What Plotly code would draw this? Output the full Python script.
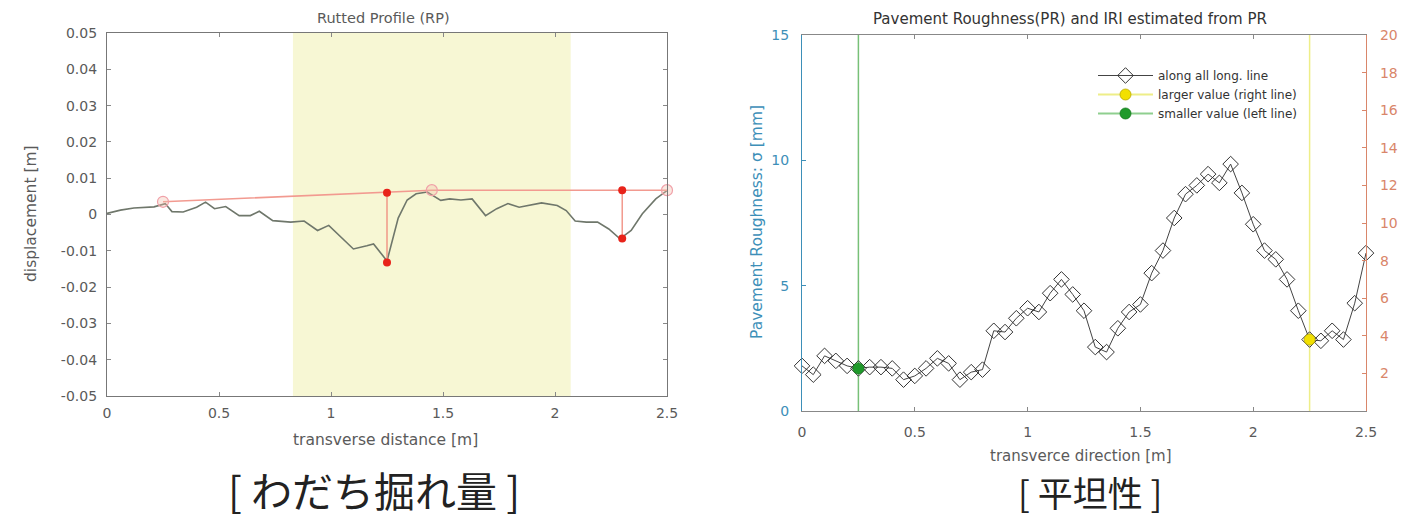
import plotly.graph_objects as go

# page body has an 8px margin, so the figure is sized to fit inside the window
W, H = 1400, 512
OFF = 8

# ---------------------------
# Left panel: rutted profile
# ---------------------------
rp_x = [0.0, 0.06, 0.12, 0.21, 0.26, 0.29, 0.34, 0.40, 0.44, 0.48, 0.53, 0.59, 0.64,
        0.68, 0.74, 0.82, 0.88, 0.94, 0.99, 1.06, 1.10, 1.16, 1.19, 1.25, 1.27, 1.30,
        1.34, 1.38, 1.43, 1.49, 1.53, 1.58, 1.63, 1.69, 1.74, 1.79, 1.84, 1.89, 1.94,
        2.01, 2.05, 2.09, 2.14, 2.19, 2.24, 2.29, 2.34, 2.39, 2.45, 2.50]
rp_y = [0.0003, 0.0012, 0.0018, 0.0021, 0.0030, 0.0008, 0.0007, 0.0020, 0.0034, 0.0016,
        0.0022, -0.0003, -0.0003, 0.0009, -0.0017, -0.0021, -0.0018, -0.0044, -0.0030,
        -0.0072, -0.0095, -0.0086, -0.0081, -0.0128, -0.0080, -0.0010, 0.0040, 0.0057,
        0.0062, 0.0039, 0.0043, 0.0040, 0.0043, -0.0003, 0.0016, 0.0030, 0.0020, 0.0025,
        0.0032, 0.0025, 0.0011, -0.0018, -0.0021, -0.0021, -0.0040, -0.0067, -0.0044,
        0.0002, 0.0043, 0.0066]

env_x = [0.25, 1.25, 1.45, 2.3, 2.5]
env_y = [0.0035, 0.0060, 0.0067, 0.0067, 0.0067]
anchor_x = [0.25, 1.45, 2.5]
anchor_y = [0.0035, 0.0067, 0.0067]
rut_x = [1.25, 2.3]
rut_top = [0.0060, 0.0067]
rut_bottom = [-0.0132, -0.0066]
band = [0.83, 2.07]
rp_ticks = [-0.05, -0.04, -0.03, -0.02, -0.01, 0, 0.01, 0.02, 0.03, 0.04, 0.05]
rp_ticktext = ["-0.05", "-0.04", "-0.03", "-0.02", "-0.01", "0",
               "0.01", "0.02", "0.03", "0.04", "0.05"]

# ---------------------------
# Right panel: pavement roughness
# ---------------------------
pr_x = [0.00, 0.05, 0.10, 0.15, 0.20, 0.25, 0.30, 0.35, 0.40, 0.45, 0.50, 0.55, 0.60,
        0.65, 0.70, 0.75, 0.80, 0.85, 0.90, 0.95, 1.00, 1.05, 1.10, 1.15, 1.20, 1.25,
        1.30, 1.35, 1.40, 1.45, 1.50, 1.55, 1.60, 1.65, 1.70, 1.75, 1.80, 1.85, 1.90,
        1.95, 2.00, 2.05, 2.10, 2.15, 2.20, 2.25, 2.30, 2.35, 2.40, 2.45, 2.50]
pr_y = [1.80, 1.45, 2.20, 2.00, 1.80, 1.70, 1.75, 1.75, 1.70, 1.25, 1.40, 1.70, 2.10,
        1.90, 1.25, 1.55, 1.65, 3.20, 3.15, 3.70, 4.10, 3.95, 4.70, 5.25, 4.65, 4.00,
        2.55, 2.35, 3.30, 3.95, 4.25, 5.50, 6.40, 7.70, 8.65, 9.00, 9.45, 9.10, 9.85,
        8.70, 7.45, 6.40, 6.05, 5.25, 4.00, 2.85, 2.80, 3.20, 2.85, 4.30, 6.30]
left_line_x, left_val = 0.25, 1.70
right_line_x, right_val = 2.25, 2.85
iri_ticks = [2, 4, 6, 8, 10, 12, 14, 16, 18, 20]
x_ticks = [0, 0.5, 1, 1.5, 2, 2.5]
x_ticktext = ["0", "0.5", "1", "1.5", "2", "2.5"]


def px(x):
    # window pixel -> paper fraction
    return (x - OFF) / W


def py(y):
    return 1 - (y - OFF) / H


FONT = "DejaVu Sans"
GRAY = "#5a5a5a"
BLUE = "#3d8fb8"
ORANGE = "#d9866a"

fig = go.Figure()

# yellow band
fig.add_shape(type="rect", x0=band[0], x1=band[1], xref="x", yref="y domain", y0=0, y1=1,
              fillcolor="#f7f7d4", line_width=0, layer="below")

fig.add_trace(go.Scatter(x=rp_x, y=rp_y, mode="lines", xaxis="x", yaxis="y",
                         line=dict(color="#6f776b", width=1.6), showlegend=False))

vx, vy = [], []
for x, t, b in zip(rut_x, rut_top, rut_bottom):
    vx += [x, x, None]
    vy += [t, b, None]
fig.add_trace(go.Scatter(x=vx, y=vy, mode="lines", xaxis="x", yaxis="y",
                         line=dict(color="#f08a7c", width=1.3), showlegend=False))
fig.add_trace(go.Scatter(x=env_x, y=env_y, mode="lines", xaxis="x", yaxis="y",
                         line=dict(color="#f29a90", width=1.6), showlegend=False))
fig.add_trace(go.Scatter(x=anchor_x, y=anchor_y, mode="markers", xaxis="x", yaxis="y",
                         marker=dict(symbol="circle", size=11, color="rgba(240,190,170,0.35)",
                                     line=dict(color="#f0a0a8", width=1.2)),
                         showlegend=False, cliponaxis=False))
fig.add_trace(go.Scatter(x=rut_x + rut_x, y=rut_top + rut_bottom, mode="markers",
                         xaxis="x", yaxis="y",
                         marker=dict(symbol="circle", size=8, color="#e8231a"),
                         showlegend=False))

# right panel
fig.add_trace(go.Scatter(x=[left_line_x, left_line_x], y=[0, 15], mode="lines",
                         xaxis="x2", yaxis="y2", line=dict(color="#78c078", width=1.5),
                         showlegend=False))
fig.add_trace(go.Scatter(x=[right_line_x, right_line_x], y=[0, 15], mode="lines",
                         xaxis="x2", yaxis="y2", line=dict(color="#eeee88", width=1.5),
                         showlegend=False))
fig.add_trace(go.Scatter(x=pr_x, y=pr_y, mode="lines+markers", xaxis="x2", yaxis="y2",
                         name="along all long. line",
                         line=dict(color="#444", width=1),
                         marker=dict(symbol="diamond-open", size=12, color="#333",
                                     line=dict(width=1)),
                         cliponaxis=False))
fig.add_trace(go.Scatter(x=[right_line_x], y=[right_val], mode="lines+markers",
                         xaxis="x2", yaxis="y2", name="larger value (right line)",
                         line=dict(color="#eeee88", width=2),
                         marker=dict(symbol="circle", size=11, color="#f2e000",
                                     line=dict(color="#b8a800", width=0.8))))
fig.add_trace(go.Scatter(x=[left_line_x], y=[left_val], mode="lines+markers",
                         xaxis="x2", yaxis="y2", name="smaller value (left line)",
                         line=dict(color="#8fcf8f", width=2),
                         marker=dict(symbol="circle", size=11, color="#1f9a2a",
                                     line=dict(color="#137a1c", width=0.8))))
fig.add_trace(go.Scatter(x=[None], y=[None], xaxis="x2", yaxis="y3", showlegend=False))

tickfont = dict(family=FONT, size=14, color=GRAY)
common = dict(ticks="inside", ticklen=4, tickcolor="#888", showgrid=False, zeroline=False,
              showline=True, linewidth=1.2, tickfont=tickfont, automargin=False)

fig.update_layout(
    width=W, height=H,
    margin=dict(l=0, r=0, t=0, b=0, autoexpand=False),
    paper_bgcolor="white", plot_bgcolor="white",
    font=dict(family=FONT, color=GRAY),
    xaxis=dict(domain=[px(107), px(667)], anchor="y", range=[0, 2.5],
               tickvals=x_ticks, ticktext=x_ticktext, ticklabelstandoff=4,
               linecolor="#777", mirror="ticks", **common),
    yaxis=dict(domain=[py(396), py(33)], anchor="x", range=[-0.05, 0.05],
               tickvals=rp_ticks, ticktext=rp_ticktext, ticklabelstandoff=6,
               linecolor="#777", mirror="ticks", **common),
    xaxis2=dict(domain=[px(802), px(1366)], anchor="y2", range=[0, 2.5],
                tickvals=x_ticks, ticktext=x_ticktext, ticklabelstandoff=8,
                linecolor="#888", mirror="ticks", **common),
    yaxis2=dict(domain=[py(411), py(35)], anchor="x2", range=[0, 15], dtick=5,
                linecolor=BLUE, ticks="inside", ticklen=4, tickcolor=BLUE, showgrid=False,
                zeroline=False, showline=True, linewidth=1.2, automargin=False,
                ticklabelstandoff=9,
                tickfont=dict(family=FONT, size=14, color=BLUE)),
    yaxis3=dict(overlaying="y2", side="right", anchor="x2", range=[0, 20], tickvals=iri_ticks,
                linecolor=ORANGE, ticks="inside", ticklen=4, tickcolor=ORANGE, showgrid=False,
                zeroline=False, showline=True, linewidth=1.2, automargin=False,
                ticklabelstandoff=10,
                tickfont=dict(family=FONT, size=14, color=ORANGE)),
    legend=dict(x=px(1093), y=py(61), xanchor="left", yanchor="top",
                bgcolor="rgba(255,255,255,0)", font=dict(family=FONT, size=12, color="#333"),
                itemwidth=55, tracegroupgap=0),
    showlegend=True,
)

annots = [
    (383, 18, "Rutted Profile (RP)", 14.5, GRAY, 0),
    (1070, 19, "Pavement Roughness(PR) and IRI estimated from PR", 15, "#333", 0),
    (385, 440, "transverse distance [m]", 15.5, GRAY, 0),
    (1081, 456, "transverce direction [m]", 15, GRAY, 0),
    (31, 214, "displacement [m]", 15.5, GRAY, -90),
    (757, 222, "Pavement Roughness: σ [mm]", 15.5, BLUE, -90),
]
for x, y, text, size, color, angle in annots:
    fig.add_annotation(x=px(x), y=py(y), xref="paper", yref="paper", text=text,
                       showarrow=False, textangle=angle, xanchor="center", yanchor="middle",
                       font=dict(family=FONT, size=size, color=color))

for x, y, text, size in [(374, 489, "[ わだち掘れ量 ]", 41), (1090, 491, "[ 平坦性 ]", 35)]:
    fig.add_annotation(x=px(x), y=py(y), xref="paper", yref="paper", text=text,
                       showarrow=False, xanchor="center", yanchor="middle",
                       font=dict(family="Noto Sans CJK JP", size=size, color="#222"))

fig.write_html("out.html")
